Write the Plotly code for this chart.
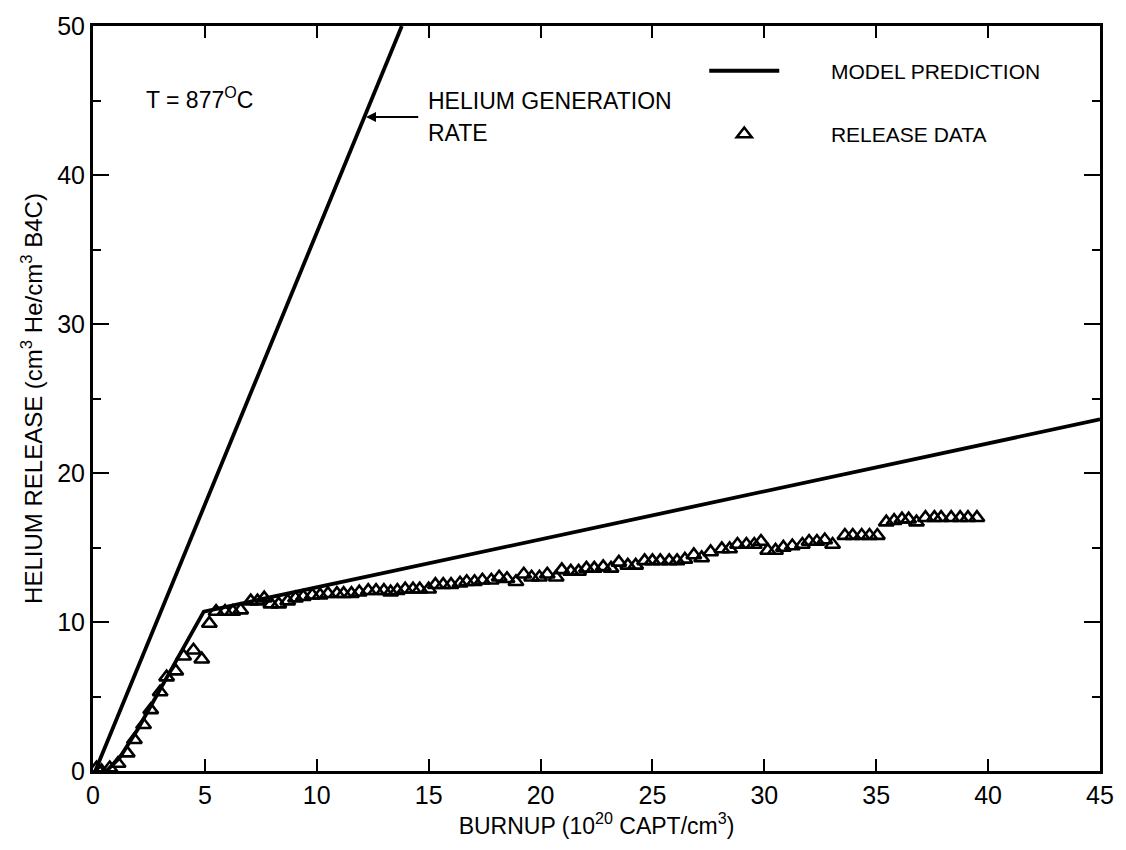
import plotly.graph_objects as go

# ---- data ----
gen_x = [0.1, 13.8]
gen_y = [0.0, 50.0]

model_x = [0.6, 1.2, 2.0, 3.3, 4.95, 45.0]
model_y = [0.0, 0.9, 2.8, 6.3, 10.7, 23.6]

data_x = [0.16, 0.38, 0.75, 1.12, 1.53, 1.85, 2.26, 2.58, 3.0, 3.29, 3.7, 4.05, 4.49, 4.86,
          5.2, 5.5, 5.9, 6.25, 6.6, 7.05, 7.35, 7.65, 7.95, 8.3, 8.7, 9.05, 9.4, 9.8,
          10.15, 10.5, 10.9, 11.2, 11.55, 11.9, 12.3, 12.65, 13.0, 13.3, 13.6, 13.95,
          14.3, 14.6, 15.0, 15.3, 15.65, 16.0, 16.4, 16.7, 17.05, 17.4, 17.8, 18.15,
          18.5, 18.9, 19.25, 19.6, 19.95, 20.3, 20.7, 20.95, 21.35, 21.7, 22.05, 22.4,
          22.8, 23.15, 23.5, 23.9, 24.25, 24.65, 25.0, 25.35, 25.75, 26.1, 26.45,
          26.85, 27.2, 27.6, 28.1, 28.45, 28.8, 29.2, 29.55, 29.85, 30.15, 30.5, 30.85,
          31.25, 31.7, 32.0, 32.35, 32.7, 33.05, 33.6, 33.95, 34.35, 34.7, 35.05, 35.45,
          35.8, 36.15, 36.45, 36.8, 37.2, 37.6, 37.9, 38.35, 38.75, 39.1, 39.5]
data_y = [0.2, 0.0, 0.2, 0.5, 1.2, 2.1, 3.1, 4.1, 5.3, 6.3, 6.7, 7.7, 8.1, 7.5,
          9.9, 10.7, 10.7, 10.7, 10.8, 11.4, 11.4, 11.6, 11.2, 11.2, 11.4, 11.6, 11.7, 11.8,
          11.8, 11.9, 11.9, 11.9, 11.9, 12.0, 12.1, 12.1, 12.1, 12.0, 12.1, 12.2,
          12.2, 12.2, 12.2, 12.5, 12.5, 12.5, 12.6, 12.7, 12.7, 12.8, 12.8, 13.0,
          12.9, 12.7, 13.2, 13.0, 13.0, 13.2, 13.0, 13.5, 13.4, 13.4, 13.6, 13.6,
          13.7, 13.6, 14.0, 13.8, 13.8, 14.1, 14.1, 14.1, 14.1, 14.1, 14.2,
          14.5, 14.3, 14.7, 14.9, 14.9, 15.2, 15.2, 15.2, 15.4, 14.8, 14.8, 15.0,
          15.1, 15.2, 15.4, 15.4, 15.5, 15.2, 15.8, 15.8, 15.8, 15.8, 15.8, 16.7,
          16.8, 16.9, 16.9, 16.7, 17.0, 17.0, 17.0, 17.0, 17.0, 17.0, 17.0]

x_ticks = [0, 5, 10, 15, 20, 25, 30, 35, 40, 45]
y_ticks = [0, 10, 20, 30, 40, 50]

FONT = "Liberation Sans Narrow, Liberation Sans, Arial, sans-serif"
PAD = "\u00a0" * 8

fig = go.Figure()
fig.add_trace(go.Scatter(x=gen_x, y=gen_y, mode="lines",
                         line=dict(color="black", width=3.8), showlegend=False,
                         hoverinfo="skip"))
fig.add_trace(go.Scatter(x=model_x, y=model_y, mode="lines", name=PAD + "MODEL PREDICTION",
                         line=dict(color="black", width=3.8), legendgroup="a"))
fig.add_trace(go.Scatter(x=data_x, y=data_y, mode="markers", name=PAD + "RELEASE DATA",
                         marker=dict(symbol="triangle-up-open", size=13, color="black",
                                     line=dict(width=2.6, color="black")),
                         legendgroup="b"))

fig.add_annotation(x=2.3, y=45.2, xref="x", yref="y", text="T = 877<sup>O</sup>C",
                   showarrow=False, xanchor="left", yanchor="middle",
                   font=dict(family=FONT, size=23, color="black"))
fig.add_annotation(x=14.9, y=45.0, xref="x", yref="y", text="HELIUM GENERATION",
                   showarrow=False, xanchor="left", yanchor="middle",
                   font=dict(family=FONT, size=23, color="black"))
fig.add_annotation(x=14.9, y=42.8, xref="x", yref="y", text="RATE",
                   showarrow=False, xanchor="left", yanchor="middle",
                   font=dict(family=FONT, size=23, color="black"))
fig.add_annotation(x=12.2, y=43.9, xref="x", yref="y", ax=14.6, ay=43.9,
                   axref="x", ayref="y", text="", showarrow=True,
                   arrowhead=2, arrowsize=1, arrowwidth=2, arrowcolor="black")

fig.update_layout(
    width=1126, height=850,
    margin=dict(l=93, r=15, t=22, b=79),
    paper_bgcolor="white", plot_bgcolor="white",
    font=dict(family=FONT, size=22, color="black"),
    legend=dict(x=0.607, y=0.967, xanchor="left", yanchor="top",
                bgcolor="rgba(0,0,0,0)", itemwidth=70, tracegroupgap=33,
                traceorder="grouped", font=dict(family=FONT, size=21, color="black")),
    xaxis=dict(range=[0, 45], tickvals=x_ticks, ticktext=[str(v) for v in x_ticks],
               ticks="inside", ticklen=12, tickwidth=2, tickcolor="black",
               showline=True, linewidth=3, linecolor="black", mirror="ticks",
               showgrid=False, zeroline=False,
               tickfont=dict(family=FONT, size=25, color="black"),
               title=dict(text="BURNUP (10<sup>20</sup> CAPT/cm<sup>3</sup>)",
                          font=dict(family=FONT, size=23, color="black"), standoff=4)),
    yaxis=dict(range=[0, 50], tickvals=y_ticks, ticktext=[str(v) for v in y_ticks],
               ticks="inside", ticklen=16, tickwidth=2, tickcolor="black",
               showline=True, linewidth=3, linecolor="black", mirror="ticks",
               showgrid=False, zeroline=False,
               minor=dict(dtick=5, ticks="inside", ticklen=8, tickwidth=2,
                          tickcolor="black", showgrid=False),
               tickfont=dict(family=FONT, size=25, color="black"),
               title=dict(text="HELIUM RELEASE (cm<sup>3</sup> He/cm<sup>3</sup> B4C)",
                          font=dict(family=FONT, size=24, color="black"), standoff=8)),
)

fig.write_html("out.html")
